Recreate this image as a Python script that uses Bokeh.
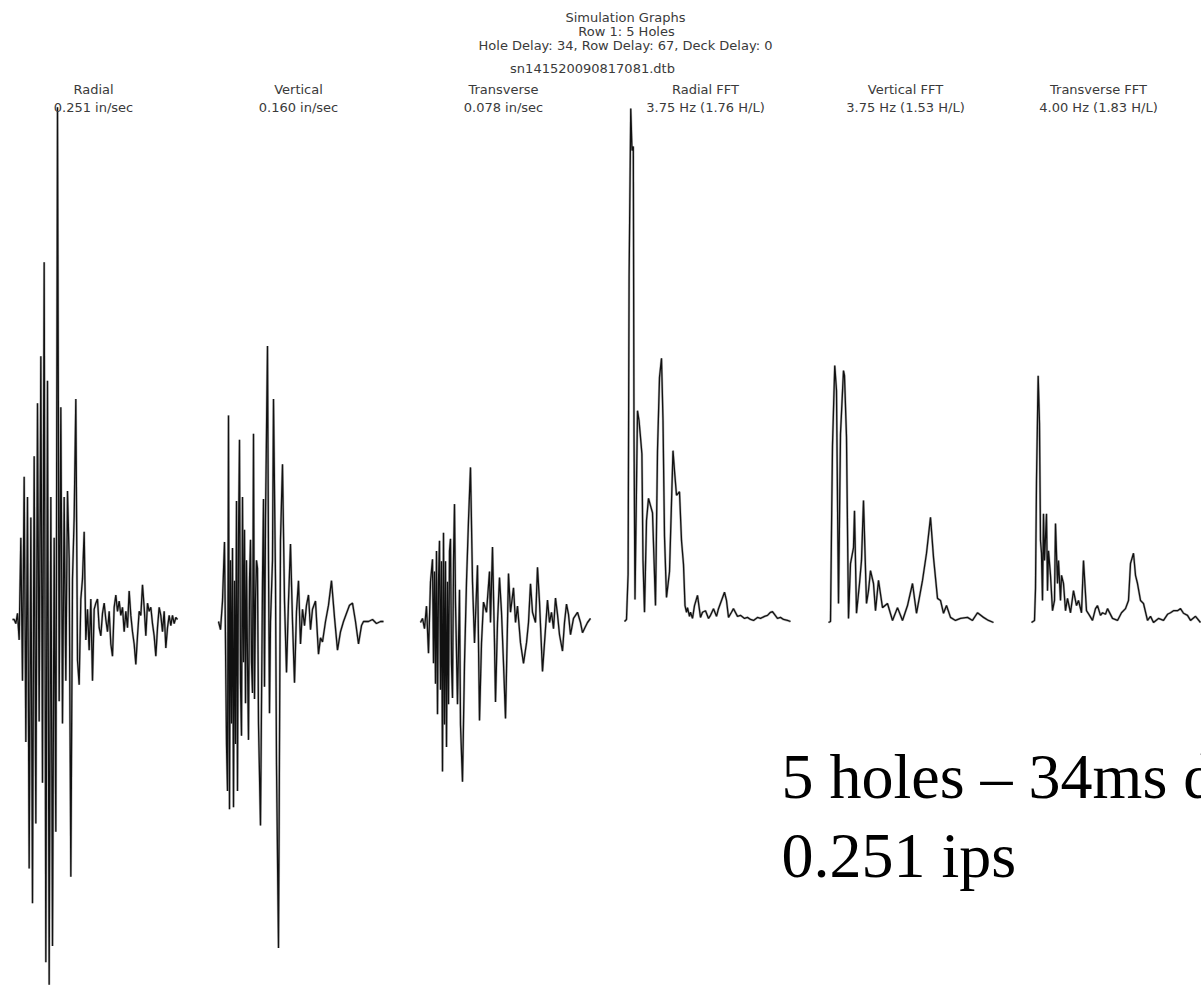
from bokeh.plotting import figure
from bokeh.models import Range1d
from bokeh.embed import file_html
from bokeh.resources import INLINE
from bokeh.core.properties import value

# ---------------- data ----------------
# Radial velocity (in/sec), sampled every 10 ms
radial_t = list(range(0, 1000, 10))
radial_v = [0, 0, -0.002, 0.003, -0.01, 0.04, -0.03, 0.07, -0.06, 0.06,
            -0.122, 0.05, -0.139, 0.08, -0.10, 0.106, -0.05, 0.129, -0.08, 0.175,
            -0.168, 0.117, -0.179, 0.06, -0.160, 0.04, -0.104, 0.251, -0.04, 0.104,
            -0.051, 0.06, -0.03, 0.063, 0.03, -0.126, 0.02, 0.05, 0.108, -0.02,
            -0.032, 0.01, 0.02, 0.043, -0.01, 0.005, -0.015, 0.01, -0.03, 0.005,
            0.008, 0.01, -0.004, -0.008, 0.003, 0.008, 0.0, -0.006, 0.004, -0.012,
            -0.018, 0.006, 0.012, 0.004, 0.009, 0.002, 0.006, -0.006, 0.004, -0.004,
            0.014, 0.002, -0.006, -0.012, -0.022, -0.008, 0.004, 0.002, 0.017, 0.006,
            -0.008, 0.008, 0.004, 0.006, -0.002, -0.008, -0.018, -0.004, 0.006, 0.002,
            -0.006, 0.004, -0.014, -0.004, 0.002, -0.003, 0.002, -0.002, 0.001, 0.0]

# Vertical velocity (in/sec) vs time (ms)
vertical_t = [0, 12, 24, 36, 48, 54, 60, 66, 72, 78, 84, 90, 96, 102, 108, 114, 120, 126,
              132, 138, 144, 150, 156, 162, 168, 174, 180, 186, 192, 198, 204, 210, 216, 222,
              228, 234, 240, 252, 264, 270, 276, 282, 294, 300, 306, 312, 324, 330, 342, 348,
              360, 372, 384, 396, 408, 420, 432, 444, 456, 468, 480, 492, 504, 516, 528, 540,
              552, 564, 582, 600, 612, 624, 642, 660, 678, 696, 714, 732, 750, 768, 786, 804,
              822, 840, 858, 870, 900, 924, 948, 972, 990]
vertical_v = [0, -0.004, 0.01, 0.039, -0.06, -0.083,
              0.101, -0.092, 0.03, -0.05, 0.036, -0.091,
              0.02, -0.06, 0.059, -0.083, 0.04, 0.089,
              -0.03, -0.056, 0.061, -0.02, 0.045, -0.04,
              0.03, -0.02, -0.058, 0.02, 0.04, -0.02,
              -0.035, 0.092, -0.038, 0.01, 0.03, 0.026,
              -0.05, -0.100, 0.02, 0.06, -0.032, 0.05,
              0.135, 0.03, -0.045, 0.0, 0.03, 0.109,
              0.02, -0.07, -0.160, 0.04, 0.077, 0.01,
              -0.025, 0.01, 0.038, 0.0, -0.03, 0.005,
              0.02, -0.011, 0.006, -0.002, 0.008, 0.013,
              -0.004, 0.006, 0.01, -0.016, -0.008, -0.01,
              0.0, 0.008, 0.02, 0.002, -0.014, -0.005,
              0.0, 0.004, 0.008, 0.009, 0.0, -0.011,
              -0.002, 0.0, 0.0, 0.001, -0.001, 0.0,
              0.0]

# Transverse velocity (in/sec) vs time (ms)
transverse_t = [0, 12, 24, 36, 48, 60, 72, 78, 84, 90, 96, 102, 108, 114, 120, 126, 132, 138,
                144, 150, 156, 162, 168, 174, 180, 186, 192, 198, 204, 210, 222, 234, 240, 252,
                264, 276, 288, 300, 312, 324, 342, 354, 366, 378, 396, 414, 420, 432, 444, 450,
                462, 474, 486, 498, 510, 522, 528, 540, 558, 570, 582, 600, 618, 636, 648, 660,
                672, 690, 702, 714, 732, 744, 762, 774, 786, 798, 810, 822, 834, 852, 864, 876,
                888, 900, 918, 942, 960, 972, 990, 1002, 1020]
transverse_v = [0, 0.002, -0.003, 0.008, -0.015, 0.02,
                0.031, -0.02, 0.025, -0.03, 0.035, -0.045,
                0.02, 0.040, -0.033, 0.03, -0.073, 0.044,
                -0.05, 0.03, -0.061, 0.02, -0.04, 0.035,
                0.041, -0.02, -0.037, 0.03, 0.058, 0.01,
                -0.04, 0.016, -0.05, -0.078, -0.02, 0.02,
                0.05, 0.076, 0.02, -0.01, 0.028, -0.048,
                -0.01, 0.01, 0.005, 0.025, 0.0, 0.037,
                -0.01, -0.039, 0.0, 0.022, 0.005, -0.02,
                -0.047, 0.0, 0.024, 0.005, 0.017, 0.0,
                0.008, -0.01, -0.02, -0.01, 0.0, 0.019,
                0.005, 0.0, 0.027, 0.01, -0.024, -0.01,
                0.011, 0.0, 0.005, -0.003, 0.012, 0.004,
                -0.006, -0.014, 0.0, 0.009, 0.004, -0.006,
                0.002, 0.005, 0.0, -0.005, -0.002, 0.0,
                0.002]

# FFT spectra: frequency (Hz) vs relative amplitude (Radial FFT peak = 100)
radial_fft_f = [0, 1.2, 2.16, 2.76, 3.75, 4.5, 5.28, 5.7, 6.3, 7.8,
                8.7, 9.42, 10.44, 11.1, 12.0, 13.2, 14.4, 15.6, 16.8, 18.6,
                19.8, 21.0, 22.2, 23.1, 24.0, 25.2, 27.0, 29.1, 30.0, 31.2,
                33.0, 34.2, 35.4, 36.3, 37.2, 37.8, 39.0, 39.6, 40.8, 42.0,
                43.8, 45.6, 46.8, 48.6, 50.4, 51.6, 53.4, 55.2, 56.4, 58.2,
                60.0, 61.2, 62.4, 64.2, 65.4, 67.8, 69.6, 72.0, 73.8, 75.6,
                77.4, 79.8, 81.6, 84.0, 85.8, 87.6, 88.8, 90.0, 91.8, 93.6,
                95.4, 97.8, 99.6]
radial_fft_a = [0, 0.4, 9.2, 67.3, 100, 91.8, 92.6, 36.6, 4.3, 41.1,
                39.2, 36.6, 32.7, 11.9, 1.8, 19.7, 24.0, 22.6, 21.2, 3.1,
                33.3, 47.6, 51.3, 39.2, 16.6, 4.7, 9.7, 33.3, 29.4, 24.6,
                25.3, 15.8, 11.1, 3.1, 1.8, 2.7, 1.0, 1.8, 0.6, 3.1,
                5.1, 0.8, 1.8, 2.1, 0.6, 1.2, 2.5, 1.0, 2.5, 4.1,
                5.7, 4.1, 0.8, 1.8, 2.5, 1.0, 1.2, 0.6, 0.8, 0.4,
                0.2, 0.8, 0.6, 1.0, 1.2, 1.8, 1.9, 1.4, 0.6, 0.8,
                0.4, 0.2, 0]

vertical_fft_f = [0, 1.2, 1.8, 2.4, 3.75, 4.8, 5.4, 6.0, 7.2, 9.0,
                  9.6, 10.8, 12.0, 13.2, 15.0, 15.6, 16.8, 18.6, 19.8, 21.0,
                  22.8, 24.0, 25.2, 27.0, 28.2, 30.0, 32.4, 35.4, 38.4, 41.4,
                  44.4, 47.4, 50.4, 52.8, 56.4, 58.8, 61.2, 63.0, 65.4, 67.2,
                  69.0, 70.8, 73.2, 76.2, 79.2, 83.4, 86.4, 89.4, 93.0, 96.0,
                  99.0]
vertical_fft_a = [0, 0.2, 17.9, 34.5, 50.1, 45.2, 23.8, 3.7, 36.8, 49.1,
                  48.1, 36.1, 0.8, 11.5, 14.6, 21.8, 1.8, 7.6, 12.1, 23.8,
                  3.7, 6.2, 10.1, 7.6, 2.3, 8.2, 2.9, 3.7, 0.4, 2.9,
                  0.4, 3.3, 7.6, 1.8, 8.2, 13.5, 20.5, 12.7, 4.7, 4.3,
                  1.8, 3.3, 1.0, 0.4, 0.8, 1.0, 0.4, 1.9, 1.0, 0.4,
                  0]

transverse_fft_f = [0, 1.8, 2.4, 3.0, 4.0, 4.8, 5.4, 6.0, 6.6, 7.2,
                    7.8, 9.0, 9.6, 10.2, 11.4, 12.6, 13.8, 14.4, 15.6, 16.2,
                    17.4, 18.0, 19.2, 20.4, 21.6, 23.4, 25.2, 27.0, 28.2, 30.0,
                    31.2, 33.0, 34.8, 36.6, 38.4, 39.6, 41.4, 42.6, 44.4, 45.6,
                    48.6, 51.6, 54.0, 56.4, 58.2, 59.4, 61.2, 62.4, 63.6, 65.4,
                    67.2, 69.6, 71.4, 73.2, 76.2, 79.2, 81.6, 83.4, 85.2, 87.6,
                    89.4, 91.2, 93.6, 95.4, 98.4, 101.4]
transverse_fft_a = [0, 0.4, 6.6, 27.7, 48.1, 38.8, 16.0, 13.5, 4.3, 21.2,
                    12.1, 21.2, 6.2, 14.0, 9.2, 2.3, 4.3, 19.3, 7.6, 12.1,
                    4.3, 9.2, 7.6, 2.3, 4.7, 1.9, 6.2, 3.3, 4.3, 1.9,
                    12.1, 2.3, 1.4, 0.4, 2.7, 3.3, 1.4, 1.9, 1.6, 2.7,
                    0.8, 0.4, 1.9, 2.7, 4.3, 11.5, 13.5, 9.2, 7.6, 4.3,
                    3.7, 0.4, 1.2, 0, 0.8, 0.4, 1.6, 1.9, 2.3, 2.3,
                    2.7, 1.8, 1.4, 0.4, 1.2, 0]

header_lines = ["Simulation Graphs", "Row 1: 5 Holes",
                "Hole Delay: 34, Row Delay: 67, Deck Delay: 0", "sn141520090817081.dtb"]
panel_names = ["Radial", "Vertical", "Transverse", "Radial FFT", "Vertical FFT", "Transverse FFT"]
panel_values = ["0.251 in/sec", "0.160 in/sec", "0.078 in/sec",
                "3.75 Hz (1.76 H/L)", "3.75 Hz (1.53 H/L)", "4.00 Hz (1.83 H/L)"]
note_lines = ["5 holes \u2013 34ms delay", "0.251 ips"]

# ---------------- layout ----------------
W, H = 1201, 988
IPS_PER_PX = 0.00049    # in/sec per pixel
MS_PER_PX = 6.0         # ms per pixel
HZ_PER_PX = 0.6         # Hz per pixel
AMP_PER_PX = 1 / 5.13   # relative amplitude per pixel

p = figure(width=W, height=H, x_range=Range1d(0, W), y_range=Range1d(H, 0),
           output_backend="svg", toolbar_location=None, min_border=0,
           x_axis_location=None, y_axis_location=None)
p.grid.visible = False
p.outline_line_color = None
p.background_fill_color = "white"
p.border_fill_color = "white"

# name, left pixel of x=0, pixel row of y=0, x units/px, y units/px, xs, ys
panels = [
    ("rad", 12, 619, MS_PER_PX, IPS_PER_PX, radial_t, radial_v),
    ("ver", 218, 621, MS_PER_PX, IPS_PER_PX, vertical_t, vertical_v),
    ("tra", 420, 622, MS_PER_PX, IPS_PER_PX, transverse_t, transverse_v),
    ("rfft", 624, 621, HZ_PER_PX, AMP_PER_PX, radial_fft_f, radial_fft_a),
    ("vfft", 828, 622, HZ_PER_PX, AMP_PER_PX, vertical_fft_f, vertical_fft_a),
    ("tfft", 1031, 622, HZ_PER_PX, AMP_PER_PX, transverse_fft_f, transverse_fft_a),
]
xr, yr = {}, {}
for name, px0, py0, sx, sy, xs, ys in panels:
    xr[name] = Range1d(-px0 * sx, (W - px0) * sx)
    yr[name] = Range1d(-(H - py0) * sy, py0 * sy)
p.extra_x_ranges = xr
p.extra_y_ranges = yr

for name, px0, py0, sx, sy, xs, ys in panels:
    # soft grey halo + dark core, like the scanned trace
    p.line(xs, ys, x_range_name=name, y_range_name=name,
           line_color="#8a8a8a", line_width=2.4, line_alpha=0.6)
    p.line(xs, ys, x_range_name=name, y_range_name=name,
           line_color="#111111", line_width=1.3)

# header texts
p.text(x=[625, 626, 625, 592], y=[17, 31, 45, 68], text=header_lines,
       text_font=value("DejaVu Sans"), text_font_size="13px", text_color="#3a3a3a",
       text_align="center", text_baseline="alphabetic")
centers = [93, 298, 503, 705, 905, 1098]
p.text(x=centers, y=[89] * 6, text=panel_names,
       text_font=value("DejaVu Sans"), text_font_size="13px", text_color="#3a3a3a",
       text_align="center", text_baseline="alphabetic")
p.text(x=centers, y=[107] * 6, text=panel_values,
       text_font=value("DejaVu Sans"), text_font_size="13px", text_color="#3a3a3a",
       text_align="center", text_baseline="alphabetic")

# big annotation (cut by the right edge, as in the original slide)
p.text(x=[781, 781], y=[776, 855], text=note_lines,
       text_font=value("Liberation Serif"), text_font_size="64px", text_color="black",
       text_align="left", text_baseline="alphabetic")

open("out.html", "w").write(file_html(p, INLINE))
